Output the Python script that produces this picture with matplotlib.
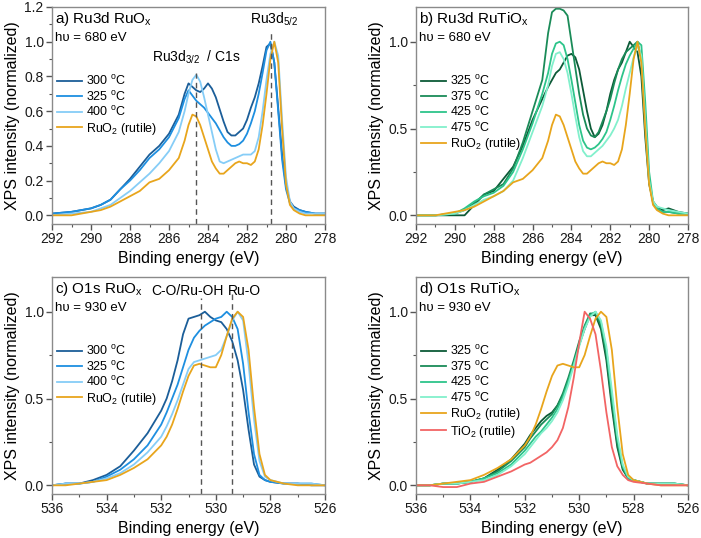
import numpy as np
import matplotlib
matplotlib.use("Agg")
import matplotlib.pyplot as plt
from matplotlib.ticker import MultipleLocator

plt.rcParams['font.family'] = ['Liberation Sans', 'DejaVu Sans']
plt.rcParams['mathtext.fontset'] = 'custom'
plt.rcParams['mathtext.rm'] = 'Liberation Sans'
plt.rcParams['mathtext.it'] = 'Liberation Sans:italic'
plt.rcParams['mathtext.default'] = 'regular'

# ---- Ru3d energy grid (eV) and normalized intensities ----
E_ru = [292, 291, 290, 289.5, 289, 288.5, 288, 287.5, 287, 286.5, 286, 285.5, 285.2, 285.0,
        284.8, 284.6, 284.4, 284.2, 284.0, 283.8, 283.6, 283.4, 283.2, 283.0, 282.8, 282.6,
        282.4, 282.2, 282.0, 281.8, 281.6, 281.4, 281.2, 281.0, 280.8, 280.6, 280.4, 280.2,
        280.0, 279.8, 279.6, 279.3, 279.0, 278.5, 278.0]

ru_ruox_300 = [0.01, 0.02, 0.04, 0.06, 0.09, 0.15, 0.21, 0.28, 0.35, 0.40, 0.47, 0.58, 0.70, 0.76,
               0.74, 0.72, 0.71, 0.73, 0.76, 0.73, 0.68, 0.61, 0.54, 0.48, 0.46, 0.46,
               0.48, 0.50, 0.55, 0.62, 0.68, 0.76, 0.86, 0.97, 0.99, 0.88, 0.62, 0.35,
               0.17, 0.08, 0.05, 0.03, 0.02, 0.01, 0.01]
ru_ruox_325 = [0.01, 0.02, 0.04, 0.06, 0.09, 0.15, 0.20, 0.26, 0.33, 0.38, 0.45, 0.56, 0.67, 0.72,
               0.69, 0.66, 0.64, 0.62, 0.59, 0.56, 0.53, 0.49, 0.45, 0.42, 0.40, 0.40,
               0.41, 0.43, 0.47, 0.53, 0.60, 0.70, 0.82, 0.95, 1.00, 0.88, 0.60, 0.32,
               0.15, 0.07, 0.04, 0.03, 0.02, 0.01, 0.01]
ru_ruox_400 = [0.00, 0.01, 0.02, 0.04, 0.06, 0.10, 0.14, 0.19, 0.24, 0.30, 0.37, 0.48, 0.60, 0.70,
               0.78, 0.81, 0.77, 0.68, 0.58, 0.48, 0.38, 0.31, 0.30, 0.31, 0.32, 0.33,
               0.34, 0.35, 0.35, 0.35, 0.37, 0.45, 0.60, 0.78, 0.93, 1.00, 0.92, 0.55,
               0.22, 0.08, 0.04, 0.02, 0.01, 0.01, 0.01]
ru_rutile = [0.00, 0.00, 0.02, 0.03, 0.05, 0.08, 0.11, 0.14, 0.19, 0.21, 0.26, 0.33, 0.43, 0.52,
             0.58, 0.57, 0.52, 0.45, 0.38, 0.31, 0.27, 0.24, 0.24, 0.26, 0.28, 0.30,
             0.31, 0.30, 0.30, 0.29, 0.31, 0.38, 0.52, 0.70, 0.90, 1.00, 0.88, 0.50,
             0.18, 0.06, 0.03, 0.01, 0.00, 0.00, 0.00]

ru_rutiox_325 = [0.00, 0.00, 0.00, 0.00, 0.06, 0.12, 0.14, 0.21, 0.28, 0.40, 0.55, 0.67, 0.74, 0.78,
                 0.82, 0.84, 0.88, 0.92, 0.93, 0.91, 0.84, 0.72, 0.60, 0.50, 0.45, 0.47,
                 0.52, 0.60, 0.70, 0.78, 0.84, 0.88, 0.94, 1.00, 0.97, 0.94, 0.80, 0.45,
                 0.18, 0.08, 0.05, 0.03, 0.04, 0.02, 0.01]
ru_rutiox_375 = [0.00, 0.00, 0.01, 0.03, 0.07, 0.12, 0.15, 0.18, 0.27, 0.42, 0.60, 0.78, 1.05, 1.17,
                 1.19, 1.19, 1.18, 1.15, 1.00, 0.85, 0.70, 0.58, 0.50, 0.46, 0.45, 0.48,
                 0.54, 0.60, 0.67, 0.76, 0.84, 0.90, 0.94, 0.96, 0.98, 1.00, 0.90, 0.55,
                 0.20, 0.07, 0.04, 0.02, 0.02, 0.01, 0.01]
ru_rutiox_425 = [0.00, 0.00, 0.01, 0.04, 0.08, 0.11, 0.13, 0.17, 0.25, 0.38, 0.53, 0.70, 0.82, 0.93,
                 0.99, 1.00, 0.98, 0.90, 0.78, 0.65, 0.52, 0.43, 0.39, 0.38, 0.39, 0.41,
                 0.44, 0.48, 0.55, 0.63, 0.72, 0.80, 0.87, 0.92, 0.96, 1.00, 0.98, 0.65,
                 0.25, 0.08, 0.04, 0.02, 0.02, 0.01, 0.01]
ru_rutiox_475 = [0.00, 0.00, 0.01, 0.03, 0.06, 0.09, 0.11, 0.14, 0.20, 0.33, 0.48, 0.63, 0.75, 0.86,
                 0.93, 0.94, 0.90, 0.82, 0.70, 0.57, 0.45, 0.37, 0.34, 0.34, 0.36, 0.38,
                 0.40, 0.43, 0.46, 0.50, 0.55, 0.63, 0.73, 0.82, 0.91, 0.98, 0.92, 0.55,
                 0.20, 0.08, 0.05, 0.04, 0.03, 0.02, 0.01]

# ---- O1s energy grid (eV) and normalized intensities ----
E_o = [536, 535.5, 535, 534.5, 534, 533.5, 533, 532.5, 532, 531.8, 531.6, 531.4, 531.2, 531.0,
       530.8, 530.6, 530.4, 530.2, 530.0, 529.8, 529.6, 529.4, 529.2, 529.0, 528.8, 528.6,
       528.4, 528.2, 528.0, 527.5, 527.0, 526.5, 526.0]

o_ruox_300 = [0.00, 0.01, 0.01, 0.03, 0.06, 0.11, 0.20, 0.30, 0.43, 0.50, 0.60, 0.72, 0.87, 0.96,
              0.97, 0.98, 1.00, 0.97, 0.95, 0.94, 0.90, 0.83, 0.72, 0.55, 0.32, 0.12,
              0.05, 0.03, 0.02, 0.01, 0.01, 0.00, 0.00]
o_ruox_325 = [0.00, 0.01, 0.01, 0.02, 0.05, 0.09, 0.15, 0.23, 0.35, 0.42, 0.50, 0.58, 0.68, 0.78,
              0.85, 0.89, 0.92, 0.94, 0.96, 0.97, 1.00, 0.97, 0.90, 0.70, 0.42, 0.18,
              0.06, 0.03, 0.02, 0.01, 0.01, 0.01, 0.00]
o_ruox_400 = [0.00, 0.01, 0.01, 0.02, 0.04, 0.07, 0.12, 0.19, 0.28, 0.34, 0.41, 0.49, 0.58, 0.67,
              0.71, 0.72, 0.73, 0.74, 0.75, 0.78, 0.86, 0.95, 1.00, 0.95, 0.70, 0.38,
              0.14, 0.05, 0.03, 0.01, 0.01, 0.01, 0.00]
o_rutile = [0.00, 0.00, 0.01, 0.02, 0.03, 0.06, 0.10, 0.15, 0.23, 0.28, 0.35, 0.44, 0.54, 0.63,
            0.69, 0.70, 0.69, 0.68, 0.68, 0.75, 0.86, 0.96, 1.00, 0.97, 0.78, 0.45,
            0.18, 0.06, 0.03, 0.01, 0.00, 0.00, 0.00]

o_rutiox_325 = [0.00, 0.00, 0.01, 0.01, 0.02, 0.04, 0.09, 0.15, 0.24, 0.29, 0.33, 0.37, 0.40, 0.42,
                0.46, 0.52, 0.60, 0.70, 0.81, 0.90, 0.98, 0.98, 0.90, 0.72, 0.45, 0.22,
                0.09, 0.04, 0.03, 0.01, 0.01, 0.01, 0.00]
o_rutiox_375 = [0.00, 0.00, 0.01, 0.01, 0.02, 0.04, 0.08, 0.14, 0.22, 0.27, 0.31, 0.35, 0.38, 0.41,
                0.46, 0.53, 0.62, 0.72, 0.83, 0.92, 0.99, 0.99, 0.92, 0.75, 0.48, 0.24,
                0.10, 0.04, 0.03, 0.01, 0.01, 0.01, 0.00]
o_rutiox_425 = [0.00, 0.00, 0.01, 0.01, 0.02, 0.04, 0.07, 0.12, 0.20, 0.24, 0.28, 0.31, 0.35, 0.39,
                0.44, 0.51, 0.60, 0.70, 0.81, 0.91, 0.98, 1.00, 0.94, 0.78, 0.52, 0.27,
                0.11, 0.04, 0.03, 0.01, 0.01, 0.01, 0.00]
o_rutiox_475 = [0.00, 0.00, 0.01, 0.01, 0.02, 0.03, 0.06, 0.11, 0.18, 0.22, 0.26, 0.30, 0.33, 0.37,
                0.42, 0.49, 0.58, 0.69, 0.80, 0.90, 0.97, 1.00, 0.95, 0.80, 0.55, 0.29,
                0.12, 0.05, 0.03, 0.01, 0.01, 0.01, 0.00]
o_tio2 = [0.00, 0.00, -0.01, -0.01, 0.01, 0.02, 0.05, 0.08, 0.12, 0.13, 0.15, 0.17, 0.19, 0.22,
          0.26, 0.33, 0.45, 0.62, 0.82, 1.00, 0.96, 0.87, 0.66, 0.42, 0.22, 0.11,
          0.06, 0.03, 0.02, 0.01, 0.00, 0.00, 0.00]

labels_ruox = ['300 $^{o}$C', '325 $^{o}$C', '400 $^{o}$C', 'RuO$_2$ (rutile)']
labels_rutiox = ['325 $^{o}$C', '375 $^{o}$C', '425 $^{o}$C', '475 $^{o}$C', 'RuO$_2$ (rutile)', 'TiO$_2$ (rutile)']

blues = ['#1b5e99', '#1e8fe0', '#86cdf7']
greens = ['#0c5a37', '#1a8b58', '#2dc48a', '#82f0cc']
c_ruo2 = '#e8a51c'
c_tio2 = '#f26464'

W, H = 701, 538
fig = plt.figure(figsize=(W / 100, H / 100), dpi=100)
ax_a = fig.add_axes([52 / W, 1 - 224 / H, 273 / W, 217 / H])
ax_b = fig.add_axes([416 / W, 1 - 224 / H, 272 / W, 217 / H])
ax_c = fig.add_axes([52 / W, 1 - 494 / H, 273 / W, 217 / H])
ax_d = fig.add_axes([416 / W, 1 - 494 / H, 272 / W, 217 / H])

lw = 1.3
for c, y, lab in zip(blues, [ru_ruox_300, ru_ruox_325, ru_ruox_400], labels_ruox[:3]):
    ax_a.plot(E_ru, y, color=c, lw=lw, label=lab)
ax_a.plot(E_ru, ru_rutile, color=c_ruo2, lw=lw, label=labels_ruox[3])

for c, y, lab in zip(greens, [ru_rutiox_325, ru_rutiox_375, ru_rutiox_425, ru_rutiox_475], labels_rutiox[:4]):
    ax_b.plot(E_ru, y, color=c, lw=lw, label=lab)
ax_b.plot(E_ru, ru_rutile, color=c_ruo2, lw=lw, label=labels_rutiox[4])

for c, y, lab in zip(blues, [o_ruox_300, o_ruox_325, o_ruox_400], labels_ruox[:3]):
    ax_c.plot(E_o, y, color=c, lw=lw, label=lab)
ax_c.plot(E_o, o_rutile, color=c_ruo2, lw=lw, label=labels_ruox[3])

for c, y, lab in zip(greens, [o_rutiox_325, o_rutiox_375, o_rutiox_425, o_rutiox_475], labels_rutiox[:4]):
    ax_d.plot(E_o, y, color=c, lw=lw, label=lab)
ax_d.plot(E_o, o_rutile, color=c_ruo2, lw=lw, label=labels_rutiox[4])
ax_d.plot(E_o, o_tio2, color=c_tio2, lw=lw, label=labels_rutiox[5])

# dashed reference lines
ax_a.plot([284.6, 284.6], [-0.05, 0.82], ls=(0, (4, 3)), color='#555555', lw=1)
ax_a.plot([280.75, 280.75], [-0.05, 1.07], ls=(0, (4, 3)), color='#555555', lw=1)
ax_c.plot([530.55, 530.55], [-0.05, 1.08], ls=(0, (4, 3)), color='#555555', lw=1)
ax_c.plot([529.4, 529.4], [-0.05, 1.1], ls=(0, (4, 3)), color='#555555', lw=1)
ax_a.text(284.6, 0.86, 'Ru3d$_{3/2}$  / C1s', ha='center', va='bottom', fontsize=10)
ax_a.text(280.6, 1.08, 'Ru3d$_{5/2}$', ha='center', va='bottom', fontsize=10)
ax_c.text(531.05, 1.08, 'C-O/Ru-OH', ha='center', va='bottom', fontsize=10)
ax_c.text(528.95, 1.08, 'Ru-O', ha='center', va='bottom', fontsize=10)

titles = ['a) Ru3d RuO$_x$', 'b) Ru3d RuTiO$_x$', 'c) O1s RuO$_x$', 'd) O1s RuTiO$_x$']
energies = ['h\u03c5 = 680 eV', 'h\u03c5 = 680 eV', 'h\u03c5 = 930 eV', 'h\u03c5 = 930 eV']

for i, ax in enumerate([ax_a, ax_b, ax_c, ax_d]):
    if i < 2:
        ax.set_xlim(292, 278)
    else:
        ax.set_xlim(536, 526)
    ax.xaxis.set_major_locator(MultipleLocator(2))
    ax.xaxis.set_minor_locator(MultipleLocator(1))
    ax.set_ylim(-0.05, 1.2)
    if i == 0:
        ax.yaxis.set_major_locator(MultipleLocator(0.2))
        ax.yaxis.set_minor_locator(MultipleLocator(0.1))
    else:
        ax.yaxis.set_major_locator(MultipleLocator(0.5))
        ax.yaxis.set_minor_locator(MultipleLocator(0.25))
    for s in ax.spines.values():
        s.set_color('#8a8a8a')
        s.set_linewidth(1.0)
    ax.tick_params(which='major', direction='out', length=4, width=1, color='#555555',
                   labelsize=10, labelcolor='#1a1a1a', pad=2)
    ax.tick_params(which='minor', direction='out', length=2.5, width=0.8, color='#555555')
    ax.set_xlabel('Binding energy (eV)', fontsize=11.5, labelpad=3)
    ax.set_ylabel('XPS intensity (normalized)', fontsize=11.5, labelpad=3)
    ax.text(0.012, 0.985, titles[i], transform=ax.transAxes, ha='left', va='top', fontsize=11)
    ax.text(0.012, 0.885, energies[i], transform=ax.transAxes, ha='left', va='top', fontsize=9.5)
    ax.legend(loc='upper left', bbox_to_anchor=(0.018, 0.69), frameon=False, fontsize=9,
              borderpad=0, borderaxespad=0, labelspacing=0.12, handlelength=2.0,
              handletextpad=0.3)

fig.savefig('out.png', dpi=100)
